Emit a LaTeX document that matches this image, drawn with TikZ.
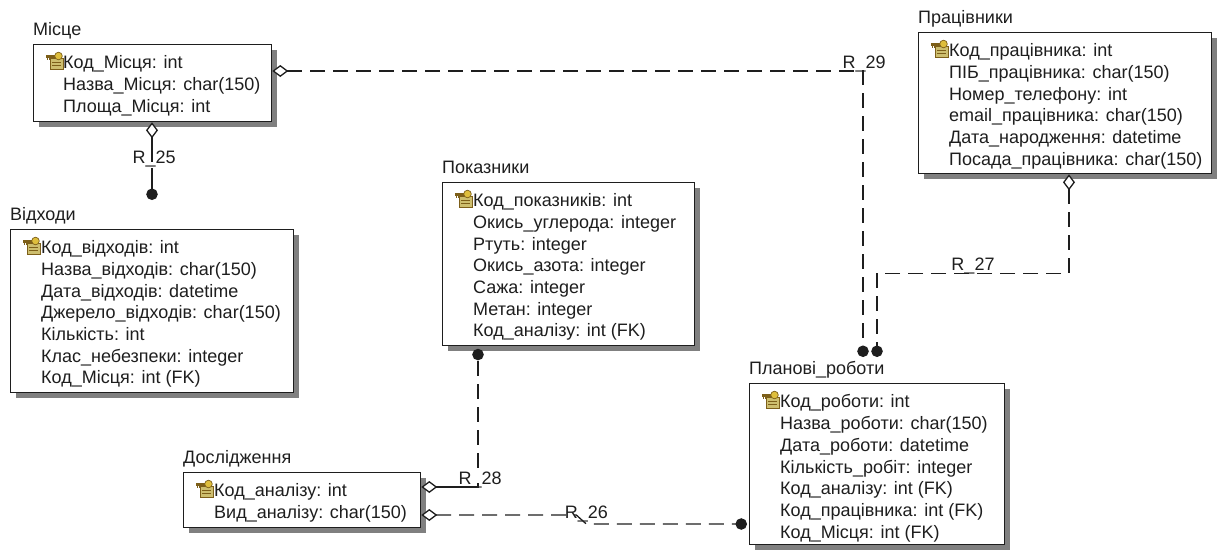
\documentclass[tikz,border=0pt]{standalone}
\usepackage{fontspec}
\setmainfont{Liberation Sans}
\usetikzlibrary{positioning, arrows.meta, shadows, calc}
\definecolor{erink}{RGB}{30, 30, 30}
\definecolor{keygold}{RGB}{222, 190, 60}
\definecolor{keybrown}{RGB}{125, 95, 25}
\definecolor{cardbg}{RGB}{205, 190, 110}

% small primary-key icon
\tikzset{
  pkicon/.pic={
    \fill[cardbg, draw=keybrown, line width=0.8pt] (5,-6) rectangle (18,-17);
    \draw[keybrown, line width=0.8pt] (7,-10) -- (16,-10) (7,-13.5) -- (16,-13.5);
    \draw[keybrown, line width=2.2pt] (1,-4.5) -- (11,-4.5);
    \draw[keybrown, line width=1.4pt] (2.5,-4.5) -- (2.5,-8) (5,-4.5) -- (5,-7.5);
    \fill[keygold, draw=keybrown, line width=0.7pt] (13.5,-4) circle (3.8);
  }
}

\begin{document}
\begin{tikzpicture}[x=1pt, y=1pt, font={\fontsize{18}{21.7}\selectfont}, text=erink,
    entity/.style={draw=erink, fill=white, line width=1.3pt, anchor=north west, inner sep=0pt,
                   drop shadow={shadow xshift=5pt, shadow yshift=-5pt, fill=black!50, opacity=1}},
    tname/.style={anchor=base west, inner sep=0pt},
    fields/.style={anchor=north west, align=left, inner sep=0pt},
    rel/.style={draw=erink, line width=1.3pt, dash pattern=on 15pt off 8pt},
    relname/.style={anchor=base west, inner sep=0pt},
    nullend/.tip={Diamond[length=16pt, width=12pt, fill=white]},
    manyend/.tip={Circle[length=11.5pt]}]
  \useasboundingbox (0,0) rectangle (1223,-549);

  % Місце
  \node[entity, minimum width=238pt, minimum height=77pt] (misce) at (33,-44) {};
  \node[tname] (misce-t) at ([yshift=8.5pt]misce.north west) {Місце};
  \pic at ([xshift=12pt, yshift=-8pt]misce.north west) {pkicon};
  \node[fields] (misce-f) at ([xshift=30pt, yshift=-11.5pt]misce.north west)
    {Код\_Місця: int\\Назва\_Місця: char(150)\\Площа\_Місця: int};

  % Відходи
  \node[entity, minimum width=283pt, minimum height=163pt] (vidh) at (10,-229) {};
  \node[tname] (vidh-t) at ([yshift=9pt]vidh.north west) {Відходи};
  \pic at ([xshift=12pt, yshift=-8pt]vidh.north west) {pkicon};
  \node[fields] (vidh-f) at ([xshift=31pt, yshift=-11.5pt]vidh.north west)
    {Код\_відходів: int\\Назва\_відходів: char(150)\\Дата\_відходів: datetime\\
     Джерело\_відходів: char(150)\\Кількість: int\\Клас\_небезпеки: integer\\Код\_Місця: int (FK)};

  % Показники
  \node[entity, minimum width=252pt, minimum height=163pt] (pokaz) at (442,-182) {};
  \node[tname] (pokaz-t) at ([yshift=8.5pt]pokaz.north west) {Показники};
  \pic at ([xshift=12pt, yshift=-8pt]pokaz.north west) {pkicon};
  \node[fields] (pokaz-f) at ([xshift=31pt, yshift=-11.5pt]pokaz.north west)
    {Код\_показників: int\\Окись\_углерода: integer\\Ртуть: integer\\Окись\_азота: integer\\
     Сажа: integer\\Метан: integer\\Код\_аналізу: int (FK)};

  % Дослідження
  \node[entity, minimum width=237pt, minimum height=55pt] (dosl) at (183,-472) {};
  \node[tname] (dosl-t) at ([yshift=8.5pt]dosl.north west) {Дослідження};
  \pic at ([xshift=12pt, yshift=-8pt]dosl.north west) {pkicon};
  \node[fields] (dosl-f) at ([xshift=31pt, yshift=-11.5pt]dosl.north west)
    {Код\_аналізу: int\\Вид\_аналізу: char(150)};

  % Планові_роботи
  \node[entity, minimum width=255pt, minimum height=161pt] (plan) at (749,-383) {};
  \node[tname] (plan-t) at ([yshift=8.5pt]plan.north west) {Планові\_роботи};
  \pic at ([xshift=12pt, yshift=-8pt]plan.north west) {pkicon};
  \node[fields] (plan-f) at ([xshift=31pt, yshift=-11.5pt]plan.north west)
    {Код\_роботи: int\\Назва\_роботи: char(150)\\Дата\_роботи: datetime\\Кількість\_робіт: integer\\
     Код\_аналізу: int (FK)\\Код\_працівника: int (FK)\\Код\_Місця: int (FK)};

  % Працівники
  \node[entity, minimum width=293pt, minimum height=141pt] (prac) at (918,-32) {};
  \node[tname] (prac-t) at ([yshift=8.5pt]prac.north west) {Працівники};
  \pic at ([xshift=12pt, yshift=-8pt]prac.north west) {pkicon};
  \node[fields] (prac-f) at ([xshift=31pt, yshift=-11.5pt]prac.north west)
    {Код\_працівника: int\\ПІБ\_працівника: char(150)\\Номер\_телефону: int\\
     email\_працівника: char(150)\\Дата\_народження: datetime\\Посада\_працівника: char(150)};

  % free ends above Планові_роботи
  \coordinate (plan-r29) at ([xshift=114pt, yshift=26pt]plan.north west);
  \coordinate (plan-r27) at ([xshift=128pt, yshift=26pt]plan.north west);

  % relationships
  \draw[rel, nullend-manyend] ([yshift=-27pt]misce.north east) -| (plan-r29)
    node[relname, pos=0.5, xshift=-21pt, yshift=3pt] {R\_29};
  \draw[rel, dash pattern=on 25pt off 6pt on 80pt off 1pt, nullend-manyend]
    ([xshift=119pt]misce.south west) -- ([xshift=142pt, yshift=29pt]vidh.north west)
    node[relname, pos=0.52, xshift=-20pt, yshift=-1pt] {R\_25};
  \draw[rel, dash pattern=on 46pt off 15pt on 15pt off 8pt on 15pt off 8pt on 15pt off 8pt
        on 15pt off 8pt on 15pt off 8pt on 15pt off 8pt, nullend-manyend]
    ([yshift=-15pt]dosl.north east) -| ([xshift=36pt, yshift=-2.5pt]pokaz.south west)
    node[relname, pos=0.5, xshift=-20pt, yshift=3pt] {R\_28};
  \draw[rel, nullend-manyend] ([yshift=-43pt]dosl.north east) -- ++(155,0)
    node[relname, pos=1, xshift=-12pt, yshift=-3pt] {R\_26}
    -- ++(10,-9) -- ([xshift=-2pt, yshift=-141pt]plan.north west);
  \draw[rel, nullend-manyend] ([xshift=151pt]prac.south west) -- ++(0,-99) -| (plan-r27)
    node[relname, anchor=base, pos=0.25, yshift=2.5pt] {R\_27};
\end{tikzpicture}
\end{document}
